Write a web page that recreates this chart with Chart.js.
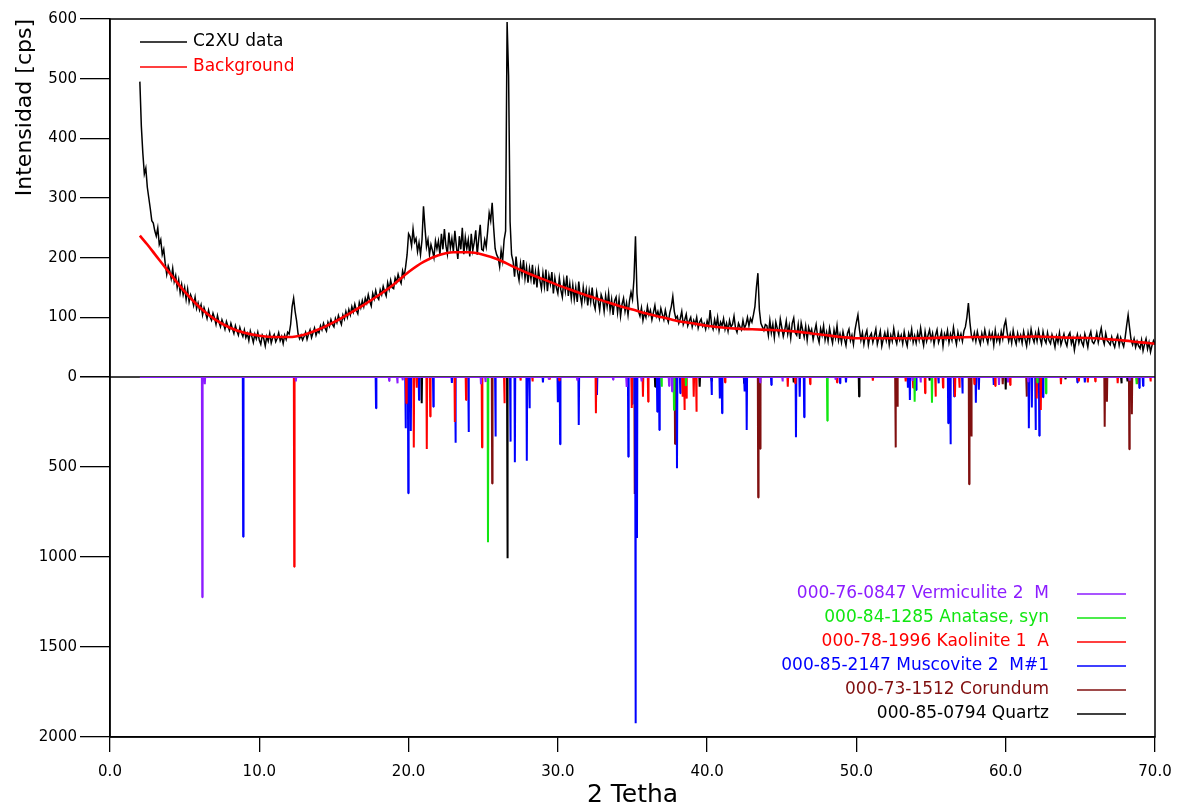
<!DOCTYPE html>
<html>
<head>
<meta charset="utf-8">
<script src="https://cdn.jsdelivr.net/npm/chart.js@4/dist/chart.umd.min.js"></script>
<style>
  html, body { margin: 0; padding: 0; background: #fff; }
  #wrap { width: 1185px; height: 810px; }
</style>
</head>
<body>
<div id="wrap"><canvas id="xrd" width="1185" height="810"></canvas></div>
<script>
// measured scan, 2-theta 2.0 .. 70.0 every 0.1 deg
const c2xuStart = 2.0;
const c2xuStep = 0.1;
const c2xuCounts = [
  495, 420, 375, 340, 350, 318, 300, 282, 262, 258,
  245, 236, 250, 222, 230, 205, 214, 190, 172, 186,
  178, 165, 182, 160, 170, 150, 163, 141, 155, 138,
  150, 130, 147, 126, 138, 131, 120, 134, 115, 124,
  112, 121, 104, 116, 108, 98, 112, 101, 95, 107,
  99, 88, 103, 92, 84, 96, 89, 80, 93, 85,
  78, 90, 81, 73, 86, 77, 70, 83, 74, 68,
  79, 66, 73, 61, 77, 68, 58, 72, 64, 75,
  62, 55, 70, 64, 52, 68, 60, 73, 57, 66,
  71, 59, 65, 74, 61, 68, 56, 70, 63, 75,
  72, 88, 118, 132, 110, 94, 72, 64, 70, 62,
  68, 75, 63, 72, 79, 66, 74, 82, 70, 78,
  74, 86, 79, 90, 82, 77, 92, 85, 96, 88,
  84, 98, 91, 103, 95, 88, 104, 97, 110, 100,
  113, 104, 118, 109, 122, 112, 106, 125, 116, 128,
  118, 132, 124, 138, 127, 119, 140, 131, 145, 134,
  130, 146, 138, 152, 143, 136, 158, 147, 162, 150,
  148, 166, 159, 172, 163, 157, 178, 168, 184, 205,
  240, 235, 220, 248, 226, 232, 210, 225, 205, 230,
  286, 250, 218, 230, 205, 222, 212, 200, 228, 215,
  228, 205, 240, 214, 248, 220, 206, 242, 216, 232,
  210, 245, 220, 198, 236, 214, 250, 206, 234, 215,
  230, 202, 240, 212, 226, 246, 205, 232, 255, 214,
  212, 230, 218, 245, 275, 262, 292, 250, 215, 205,
  200, 185, 212, 195, 230, 245, 595, 505, 260, 205,
  194, 168, 202, 176, 162, 190, 172, 196, 165, 184,
  158, 182, 164, 188, 155, 176, 150, 180, 162, 148,
  174, 152, 180, 144, 170, 156, 176, 140, 166, 150,
  140, 166, 146, 134, 162, 144, 170, 136, 156, 132,
  154, 130, 150, 126, 160, 136, 122, 150, 130, 146,
  120, 144, 126, 150, 124, 114, 142, 128, 112, 138,
  130, 110, 136, 118, 140, 112, 130, 104, 128, 134,
  108, 130, 102, 122, 132, 110, 124, 104, 128, 142,
  130, 165, 236, 140, 110, 102, 116, 95, 108, 100,
  118, 104, 112, 96, 108, 120, 102, 110, 98, 115,
  105, 96, 112, 100, 92, 108, 118, 135, 110, 98,
  102, 90, 98, 110, 88, 96, 105, 86, 94, 100,
  84, 95, 88, 100, 82, 92, 97, 85, 90, 80,
  94, 85, 112, 88, 80, 96, 84, 100, 78, 92,
  86, 98, 80, 90, 77, 95, 84, 88, 102, 82,
  75, 90, 84, 79, 95, 82, 88, 100, 86, 98,
  92, 104, 118, 150, 174, 112, 90, 84, 78, 88,
  86, 70, 95, 74, 88, 66, 92, 81, 71, 97,
  83, 68, 79, 94, 72, 86, 65, 90, 99, 74,
  70, 88, 64, 91, 79, 67, 85, 62, 83, 73,
  80, 63, 76, 88, 68, 58, 81, 70, 86, 62,
  75, 60, 82, 68, 57, 79, 66, 86, 61, 72,
  58, 76, 64, 53, 73, 80, 61, 70, 55, 78,
  92, 104, 80, 62, 74, 55, 70, 78, 54, 68,
  73, 58, 69, 80, 55, 66, 77, 52, 64, 74,
  61, 76, 54, 70, 60, 81, 65, 56, 73, 62,
  70, 56, 76, 62, 52, 73, 64, 80, 58, 69,
  57, 74, 62, 82, 65, 53, 76, 60, 70, 79,
  62, 73, 55, 70, 79, 58, 66, 76, 52, 72,
  64, 78, 58, 72, 62, 83, 67, 55, 75, 63,
  72, 60, 77, 84, 100, 124, 92, 70, 62, 74,
  60, 76, 64, 55, 73, 62, 79, 66, 57, 75,
  64, 73, 54, 78, 61, 70, 58, 76, 64, 86,
  95, 74, 60, 72, 57, 78, 64, 55, 73, 61,
  70, 57, 76, 63, 52, 74, 60, 80, 66, 58,
  73, 60, 78, 65, 55, 76, 63, 57, 74, 61,
  56, 71, 62, 50, 68, 58, 74, 54, 63, 72,
  59, 52, 69, 74, 56, 65, 45, 60, 71, 57,
  68, 58, 52, 72, 62, 50, 68, 76, 59, 56,
  62, 74, 58, 71, 82, 64, 55, 73, 61, 58,
  54, 67, 57, 50, 63, 70, 53, 66, 58, 51,
  66, 86, 104, 82, 62, 54, 64, 50, 60, 52,
  48, 62, 44, 55, 64, 47, 58, 42, 53, 61,
  55
];

// fitted background
const bgTheta = [2, 2.5, 3, 4, 5, 6, 7, 8, 9, 10, 11, 12, 13, 14, 15, 16, 17, 18, 19, 20,
  21, 22, 23, 24, 25, 26, 27, 28, 29, 30, 31, 32, 33, 34, 35, 36, 37, 38, 39, 40,
  41, 42, 43, 44, 45, 46, 47, 48, 49, 50, 52, 54, 56, 58, 60, 62, 64, 66, 67, 68, 69, 70];
const bgCounts = [237, 222, 206, 174, 143, 117, 97, 83, 74, 69, 67, 67, 71, 80, 92, 106, 121, 137, 155, 176,
  193, 204, 209, 209, 205, 197, 185, 174, 164, 154, 145, 136, 128, 120, 113, 106, 100, 94, 90, 86,
  83, 81, 80, 79, 78, 76, 73, 70, 67, 65, 65, 65, 66, 67, 67, 68, 66, 65, 63, 61, 58, 56];

// reference cards [2theta, intensity]
const vermiculitePeaks = [[6.18, 1224], [6.35, 40], [12.45, 25], [18.7, 22], [19.25, 35], [19.6, 18],
  [24.85, 40], [25.15, 28], [29.4, 15], [31.3, 18], [33.7, 15], [34.6, 55], [35.6, 25], [37.45, 50],
  [37.65, 80], [43.55, 30], [45.05, 25], [48.6, 15], [53.75, 22], [54.3, 30], [59.55, 44], [60.15, 30],
  [61.5, 25], [68.3, 20]];
const anatasePeaks = [[25.32, 918], [36.95, 54], [37.78, 183], [38.58, 50], [48.05, 243], [53.9, 137],
  [55.06, 143], [62.12, 30], [62.7, 91], [68.76, 40]];
const kaolinitePeaks = [[12.34, 1054], [19.85, 146], [20.35, 391], [20.55, 60], [21.22, 400], [21.45, 220],
  [23.1, 250], [23.85, 128], [24.92, 391], [26.42, 146], [27.5, 20], [28.3, 25], [29.45, 15], [30.1, 20],
  [32.55, 202], [34.95, 172], [35.7, 109], [36.05, 137], [38.35, 110], [38.48, 183], [38.62, 120],
  [39.1, 110], [39.28, 193], [41.2, 30], [45.4, 54], [45.9, 35], [46.9, 40], [48.7, 30], [51.1, 20],
  [53.3, 25], [53.8, 60], [54.6, 90], [55.3, 109], [55.8, 60], [56.6, 109], [56.9, 60], [57.9, 40],
  [59.3, 50], [60.3, 45], [62.08, 120], [62.35, 183], [63.7, 40], [64.9, 25], [65.5, 30], [66.0, 25],
  [67.5, 35], [68.8, 35], [69.7, 25]];
const muscovitePeaks = [[8.92, 887], [17.82, 174], [19.8, 285], [19.98, 646], [20.15, 300], [20.7, 128],
  [21.66, 165], [22.9, 33], [23.14, 365], [24.02, 306], [25.82, 331], [26.82, 359], [27.12, 474],
  [27.92, 465], [28.1, 174], [29.0, 30], [30.0, 140], [30.15, 374], [31.4, 267], [32.62, 100],
  [34.72, 443], [34.98, 150], [35.2, 1924], [35.3, 894], [36.66, 193], [36.8, 294], [37.98, 507],
  [38.2, 90], [40.3, 100], [40.85, 120], [41.0, 202], [42.5, 80], [42.65, 294], [44.3, 44],
  [45.95, 335], [46.2, 109], [46.5, 224], [48.9, 35], [49.3, 30], [53.45, 60], [53.58, 128],
  [54.0, 72], [55.5, 35], [56.15, 257], [56.3, 374], [56.55, 109], [57.1, 91], [58.0, 143],
  [58.2, 70], [59.2, 44], [61.55, 285], [61.75, 169], [62.0, 294], [62.25, 326], [62.5, 113],
  [64.8, 30], [65.3, 30], [68.95, 61], [69.2, 50]];
const corundumPeaks = [[25.6, 591], [35.15, 650], [37.85, 372], [43.42, 670], [43.55, 398],
  [52.62, 391], [52.75, 165], [57.55, 596], [57.7, 331], [59.8, 40], [61.4, 109], [66.63, 276],
  [66.78, 137], [68.28, 402], [68.45, 207]];
const quartzPeaks = [[20.88, 146], [26.62, 1007], [36.52, 54], [39.5, 54], [40.3, 25], [42.48, 35],
  [45.8, 30], [50.18, 109], [54.9, 20], [60.0, 69], [64.0, 12], [67.75, 35], [68.15, 25]];

const xTicks = [0, 10, 20, 30, 40, 50, 60, 70];
const yTopTicks = [0, 100, 200, 300, 400, 500, 600];
const yBotTicks = [0, 500, 1000, 1500, 2000];

const FONT = '"DejaVu Sans", "Liberation Sans", sans-serif';

function spikes(peaks) {
  const pts = [{ x: 2, y: 0 }];
  peaks.slice().sort((a, b) => a[0] - b[0]).forEach(([t, v]) => {
    pts.push({ x: t - 0.025, y: 0 }, { x: t, y: v }, { x: t + 0.025, y: 0 });
  });
  pts.push({ x: 70, y: 0 });
  return pts;
}

const scanPoints = c2xuCounts.map((v, i) => ({ x: +(c2xuStart + i * c2xuStep).toFixed(2), y: v }));
const bgPoints = bgTheta.map((t, i) => ({ x: t, y: bgCounts[i] }));

function card(label, peaks, color, order) {
  return {
    label, data: spikes(peaks), yAxisID: 'yBot', borderColor: color,
    borderWidth: 2, pointRadius: 0, borderJoinStyle: 'bevel', order, card: true
  };
}

const datasets = [
  { label: 'C2XU data', data: scanPoints, yAxisID: 'yTop', borderColor: '#000', borderWidth: 1.5,
    pointRadius: 0, order: 1 },
  { label: 'Background', data: bgPoints, yAxisID: 'yTop', borderColor: '#ff0000', borderWidth: 2.6,
    pointRadius: 0, cubicInterpolationMode: 'monotone', order: 0 },
  card('000-76-0847 Vermiculite 2  M', vermiculitePeaks, '#8c1cff', 2),
  card('000-84-1285 Anatase, syn', anatasePeaks, '#11e611', 3),
  card('000-78-1996 Kaolinite 1  A', kaolinitePeaks, '#ff0000', 4),
  card('000-85-2147 Muscovite 2  M#1', muscovitePeaks, '#0000ff', 5),
  card('000-73-1512 Corundum', corundumPeaks, '#800f0f', 6),
  card('000-85-0794 Quartz', quartzPeaks, '#000000', 7)
];

const framePlugin = {
  id: 'frame',
  beforeDatasetsDraw(chart) {
    const { ctx, chartArea: a, scales } = chart;
    const y0 = scales.yTop.getPixelForValue(0);
    ctx.save();
    ctx.strokeStyle = '#000';
    ctx.lineWidth = 1.5;
    ctx.beginPath();
    ctx.moveTo(a.left, y0);
    ctx.lineTo(a.right, y0);
    ctx.stroke();
    ctx.restore();
  },
  afterDatasetsDraw(chart) {
    const { ctx, chartArea: a } = chart;
    ctx.save();
    ctx.strokeStyle = '#000';
    ctx.lineWidth = 1.5;
    ctx.strokeRect(a.left, a.top, a.right - a.left, a.bottom - a.top);
    ctx.restore();
  }
};

const legendPlugin = {
  id: 'xrdLegend',
  afterDraw(chart) {
    const { ctx, chartArea: a } = chart;
    const sets = chart.data.datasets;
    ctx.save();
    ctx.font = '17px ' + FONT;
    ctx.textBaseline = 'middle';
    ctx.lineWidth = 1.6;
    // scan + background, top left
    sets.filter(d => !d.card).forEach((d, i) => {
      const y = a.top + 23 + i * 25;
      ctx.strokeStyle = d.borderColor;
      ctx.beginPath();
      ctx.moveTo(a.left + 30, y);
      ctx.lineTo(a.left + 77, y);
      ctx.stroke();
      ctx.fillStyle = d.borderColor;
      ctx.textAlign = 'left';
      ctx.fillText(d.label, a.left + 83, y);
    });
    // reference cards, bottom right
    sets.filter(d => d.card).forEach((d, i) => {
      const y = a.bottom - 143 + i * 24;
      ctx.strokeStyle = d.borderColor;
      ctx.beginPath();
      ctx.moveTo(a.right - 78, y);
      ctx.lineTo(a.right - 29, y);
      ctx.stroke();
      ctx.fillStyle = d.borderColor;
      ctx.textAlign = 'right';
      ctx.fillText(d.label, a.right - 106, y);
    });
    ctx.restore();
  }
};

const tickFont = { family: FONT, size: 15 };
const gridOpts = len => ({ drawOnChartArea: false, tickLength: len, color: '#000', lineWidth: 1.3 });

new Chart(document.getElementById('xrd'), {
  type: 'line',
  data: { datasets },
  plugins: [framePlugin, legendPlugin],
  options: {
    responsive: false,
    animation: false,
    devicePixelRatio: 1,
    layout: { padding: { top: 19, right: 30, bottom: 0, left: 0 } },
    plugins: { legend: { display: false }, tooltip: { enabled: false } },
    scales: {
      x: {
        type: 'linear', min: 0, max: 70,
        afterBuildTicks: s => { s.ticks = xTicks.map(v => ({ value: v })); },
        ticks: { font: tickFont, color: '#000', padding: 11, maxRotation: 0, autoSkip: false,
          callback: v => v.toFixed(1) },
        grid: gridOpts(15),
        border: { color: '#000', width: 1.5 },
        title: { display: true, text: '2 Tetha', color: '#000', font: { family: FONT, size: 25 },
          padding: { top: 0, bottom: 0 } },
        afterFit: s => { s.height = 73; }
      },
      yTop: {
        type: 'linear', position: 'left', stack: 'xrd', stackWeight: 358, weight: 2,
        min: 0, max: 600,
        afterBuildTicks: s => { s.ticks = yTopTicks.map(v => ({ value: v })); },
        ticks: { font: tickFont, color: '#000', padding: 3, autoSkip: false, callback: v => String(v) },
        grid: gridOpts(30),
        border: { color: '#000', width: 1.5 },
        title: { display: true, text: 'Intensidad [cps]', align: 'end', color: '#000',
          font: { family: FONT, size: 22 }, padding: { top: 12, bottom: 0 } },
        afterFit: s => { s.width = 110; }
      },
      yBot: {
        type: 'linear', position: 'left', stack: 'xrd', stackWeight: 360, weight: 1,
        min: 0, max: 2000, reverse: true,
        afterBuildTicks: s => { s.ticks = yBotTicks.map(v => ({ value: v })); },
        ticks: { font: tickFont, color: '#000', padding: 3, autoSkip: false,
          callback: v => (v === 0 ? '' : String(v)) },
        grid: gridOpts(30),
        border: { color: '#000', width: 1.5 },
        afterFit: s => { s.width = 110; }
      }
    }
  }
});
</script>
</body>
</html>
